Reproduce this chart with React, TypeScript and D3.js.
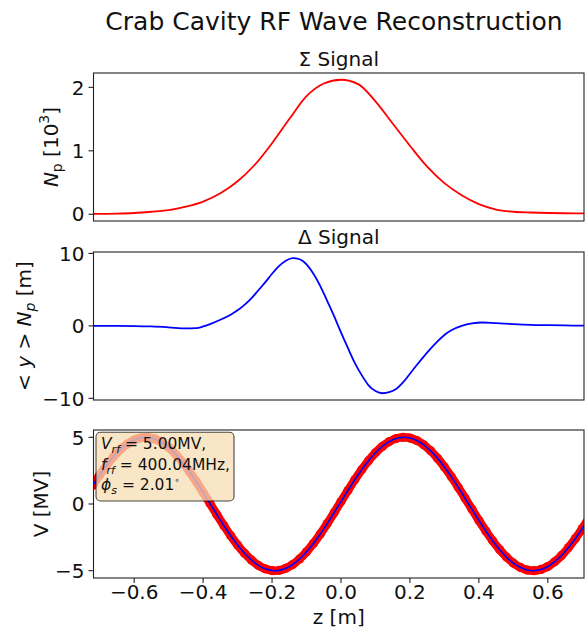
import React from 'react';
import * as d3 from 'd3';

// Sigma signal (N_p in 10^3)
const zSum = [-0.718, -0.65, -0.6, -0.55, -0.5, -0.45, -0.4, -0.35, -0.3, -0.25, -0.2, -0.15, -0.1, -0.05, 0.0,
  0.05, 0.1, 0.15, 0.2, 0.25, 0.3, 0.35, 0.4, 0.45, 0.5, 0.55, 0.6, 0.65, 0.705];
const sumVals = [0.005, 0.01, 0.02, 0.04, 0.065, 0.12, 0.2, 0.33, 0.52, 0.78, 1.12, 1.5, 1.86, 2.06, 2.12,
  2.05, 1.78, 1.43, 1.08, 0.75, 0.49, 0.3, 0.16, 0.075, 0.04, 0.028, 0.02, 0.016, 0.015];

// Delta signal (<y> N_p in m)
const zDelta = [-0.718, -0.65, -0.6, -0.55, -0.5, -0.45, -0.42, -0.4, -0.38, -0.35, -0.32, -0.3, -0.28, -0.26,
  -0.24, -0.22, -0.2, -0.18, -0.16, -0.14, -0.12, -0.1, -0.08, -0.06, -0.04, -0.02, 0.0, 0.02, 0.04, 0.06,
  0.08, 0.1, 0.12, 0.14, 0.16, 0.18, 0.2, 0.22, 0.24, 0.26, 0.28, 0.3, 0.32, 0.35, 0.38, 0.41, 0.45, 0.5,
  0.55, 0.6, 0.65, 0.705];
const deltaVals = [0.0, 0.0, -0.02, -0.08, -0.2, -0.35, -0.3, -0.08, 0.25, 0.85, 1.55, 2.15, 2.9, 3.8,
  4.9, 6.0, 7.2, 8.25, 9.0, 9.35, 9.2, 8.5, 7.2, 5.5, 3.45, 1.35, -0.9, -3.05, -5.1, -6.8,
  -8.2, -9.0, -9.3, -9.15, -8.7, -7.8, -6.6, -5.4, -4.25, -3.15, -2.15, -1.25, -0.6, 0.0, 0.35, 0.47, 0.38, 0.25,
  0.15, 0.1, 0.06, 0.04];

// RF wave (V in MV)
const zWave = [-0.72, -0.7, -0.68, -0.66, -0.64, -0.62, -0.6, -0.58, -0.56, -0.54, -0.52, -0.5, -0.48, -0.46,
  -0.44, -0.42, -0.4, -0.38, -0.36, -0.34, -0.32, -0.3, -0.28, -0.26, -0.24, -0.22, -0.2, -0.18, -0.16, -0.14,
  -0.12, -0.1, -0.08, -0.06, -0.04, -0.02, 0.0, 0.02, 0.04, 0.06, 0.08, 0.1, 0.12, 0.14, 0.16, 0.18, 0.2,
  0.22, 0.24, 0.26, 0.28, 0.3, 0.32, 0.34, 0.36, 0.38, 0.4, 0.42, 0.44, 0.46, 0.48, 0.5, 0.52, 0.54, 0.56,
  0.58, 0.6, 0.62, 0.64, 0.66, 0.68, 0.7, 0.72];
const waveVals = [1.4, 2.18, 2.9, 3.54, 4.08, 4.5, 4.8, 4.97, 4.99, 4.88, 4.63, 4.24, 3.74, 3.14,
  2.44, 1.68, 0.87, 0.04, -0.8, -1.61, -2.38, -3.08, -3.69, -4.2, -4.6, -4.86, -4.99, -4.98, -4.82, -4.54,
  -4.12, -3.59, -2.96, -2.25, -1.47, -0.65, 0.18, 1.01, 1.82, 2.57, 3.25, 3.84, 4.32, 4.68, 4.91, 5.0, 4.95,
  4.76, 4.44, 3.99, 3.44, 2.78, 2.05, 1.26, 0.43, -0.4, -1.23, -2.02, -2.76, -3.42, -3.98, -4.43, -4.75, -4.95, -5.0,
  -4.91, -4.69, -4.33, -3.86, -3.27, -2.59, -1.84, -1.04];

const xTicks = [-0.6, -0.4, -0.2, 0.0, 0.2, 0.4, 0.6];
const sumTicks = [0, 1, 2];
const deltaTicks = [-10, 0, 10];
const waveTicks = [-5, 0, 5];

const W = 585;
const H = 629;
const FONT = 'DejaVu Sans, sans-serif';
const left = 93.5;
const right = 584;

const x = d3.scaleLinear().domain([-0.718, 0.705]).range([left, right]);

const panels = {
  sum: { top: 73, bottom: 221 },
  delta: { top: 252, bottom: 400 },
  wave: { top: 430, bottom: 578 },
};

const ySum = d3.scaleLinear().domain([-0.106, 2.226]).range([panels.sum.bottom, panels.sum.top]);
const yDelta = d3.scaleLinear().domain([-10.23, 10.2]).range([panels.delta.bottom, panels.delta.top]);
const yWave = d3.scaleLinear().domain([-5.55, 5.55]).range([panels.wave.bottom, panels.wave.top]);

const minus = (s: string) => s.replace('-', '\u2212');

const YAxis = ({ y, ticks, fmt }: { y: d3.ScaleLinear<number, number>; ticks: number[]; fmt: (v: number) => string }) => (
  <g>
    {ticks.map((t) => (
      <g key={t}>
        <line x1={left - 5} x2={left} y1={y(t)} y2={y(t)} stroke="#222" strokeWidth={1.1} />
        <text x={left - 9} y={y(t)} dy="0.36em" textAnchor="end" fontSize={20} fontFamily={FONT} fill="#111">
          {minus(fmt(t))}
        </text>
      </g>
    ))}
  </g>
);

const Frame = ({ top, bottom }: { top: number; bottom: number }) => (
  <rect x={left} y={top} width={right - left} height={bottom - top} fill="none" stroke="#222" strokeWidth={1.1} />
);

export default function App() {
  const sumLine = d3.line<number>().x((_, i) => x(zSum[i])).y((d) => ySum(d)).curve(d3.curveMonotoneX);
  const deltaLine = d3.line<number>().x((_, i) => x(zDelta[i])).y((d) => yDelta(d)).curve(d3.curveMonotoneX);
  const waveLine = d3.line<number>().x((_, i) => x(zWave[i])).y((d) => yWave(d)).curve(d3.curveCardinal);

  return (
    <svg width={W} height={H} style={{ position: 'absolute', left: 0, top: 0, background: '#fff' }}>
      <defs>
        {Object.entries(panels).map(([k, p]) => (
          <clipPath id={`clip-${k}`} key={k}>
            <rect x={left} y={p.top} width={right - left} height={p.bottom - p.top} />
          </clipPath>
        ))}
      </defs>

      <text x={334} y={30} textAnchor="middle" fontSize={25} fontFamily={FONT} fill="#111">
        Crab Cavity RF Wave Reconstruction
      </text>

      {/* Sigma signal */}
      <text x={(left + right) / 2} y={66} textAnchor="middle" fontSize={20} fontFamily={FONT} fill="#111">
        Σ Signal
      </text>
      <path d={sumLine(sumVals) || ''} fill="none" stroke="#ff0000" strokeWidth={1.8} clipPath="url(#clip-sum)" />
      <Frame {...panels.sum} />
      <YAxis y={ySum} ticks={sumTicks} fmt={(v) => d3.format('d')(v)} />
      <text transform={`translate(58,147) rotate(-90)`} textAnchor="middle" fontSize={20} fontFamily={FONT} fill="#111">
        <tspan fontStyle="italic">N</tspan>
        <tspan fontSize={14} dy={4}>p</tspan>
        <tspan dy={-4}> [10</tspan>
        <tspan fontSize={14} dy={-9}>3</tspan>
        <tspan dy={9}>]</tspan>
      </text>

      {/* Delta signal */}
      <text x={(left + right) / 2} y={244} textAnchor="middle" fontSize={20} fontFamily={FONT} fill="#111">
        Δ Signal
      </text>
      <path d={deltaLine(deltaVals) || ''} fill="none" stroke="#0000ff" strokeWidth={1.8} clipPath="url(#clip-delta)" />
      <Frame {...panels.delta} />
      <YAxis y={yDelta} ticks={deltaTicks} fmt={(v) => d3.format('d')(v)} />
      <text transform={`translate(31,326) rotate(-90)`} textAnchor="middle" fontSize={20} fontFamily={FONT} fill="#111">
        <tspan>{'< '}</tspan>
        <tspan fontStyle="italic">y</tspan>
        <tspan>{' > '}</tspan>
        <tspan fontStyle="italic">N</tspan>
        <tspan fontSize={14} fontStyle="italic" dy={4}>p</tspan>
        <tspan dy={-4}> [m]</tspan>
      </text>

      {/* RF wave */}
      <g clipPath="url(#clip-wave)">
        <path d={waveLine(waveVals) || ''} fill="none" stroke="#ff0000" strokeWidth={8.5} strokeLinecap="round" />
        {waveVals.map((v, i) => (
          <circle key={i} cx={x(zWave[i])} cy={yWave(v)} r={4.6} fill="#ff0000" />
        ))}
        <path d={waveLine(waveVals) || ''} fill="none" stroke="#0000ff" strokeWidth={1.6} />
        <rect x={96} y={432.3} width={138} height={68.7} rx={4.5} ry={4.5} fill="#f5deb3" fillOpacity={0.75}
          stroke="#000" strokeOpacity={0.7} strokeWidth={1.1} />
      </g>
      <g fontFamily={FONT} fontSize={15.5} fill="#111">
        <text x={101} y={449}>
          <tspan fontStyle="italic">V</tspan>
          <tspan fontStyle="italic" fontSize={11} dy={3.5}>rf</tspan>
          <tspan dy={-3.5}> = 5.00MV,</tspan>
        </text>
        <text x={101} y={470}>
          <tspan fontStyle="italic">f</tspan>
          <tspan fontStyle="italic" fontSize={11} dy={3.5}>rf</tspan>
          <tspan dy={-3.5}> = 400.04MHz,</tspan>
        </text>
        <text x={101} y={490}>
          <tspan fontStyle="italic">ϕ</tspan>
          <tspan fontStyle="italic" fontSize={11} dy={3.5}>s</tspan>
          <tspan dy={-3.5}> = 2.01</tspan>
          <tspan fontSize={9} dy={-7}>∘</tspan>
        </text>
      </g>
      <Frame {...panels.wave} />
      <YAxis y={yWave} ticks={waveTicks} fmt={(v) => d3.format('d')(v)} />
      {xTicks.map((t) => (
        <g key={t}>
          <line x1={x(t)} x2={x(t)} y1={panels.wave.bottom} y2={panels.wave.bottom + 5} stroke="#222" strokeWidth={1.1} />
          <text x={x(t)} y={599} textAnchor="middle" fontSize={20} fontFamily={FONT} fill="#111">
            {minus(d3.format('.1f')(t))}
          </text>
        </g>
      ))}
      <text transform={`translate(48,504) rotate(-90)`} textAnchor="middle" fontSize={20} fontFamily={FONT} fill="#111">
        V [MV]
      </text>
      <text x={(left + right) / 2} y={624} textAnchor="middle" fontSize={20} fontFamily={FONT} fill="#111">
        z [m]
      </text>
    </svg>
  );
}
